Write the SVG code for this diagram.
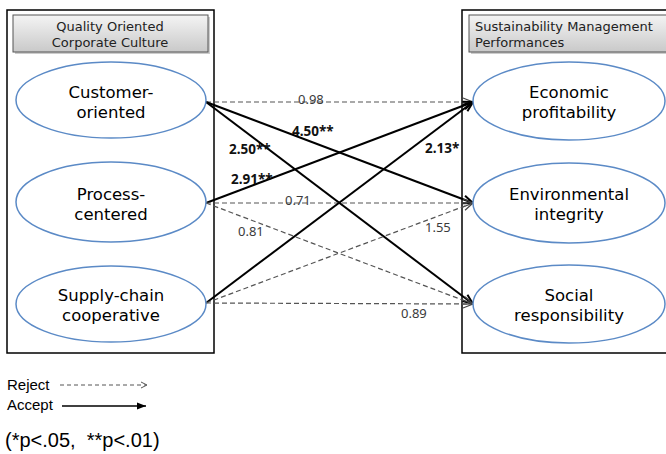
<svg xmlns="http://www.w3.org/2000/svg" width="666" height="454" viewBox="0 0 666 454">
<defs>
<linearGradient id="hdr" x1="0" y1="0" x2="0" y2="1">
<stop offset="0" stop-color="#f4f4f4"/>
<stop offset="1" stop-color="#c9c9c9"/>
</linearGradient>
<marker id="arS" markerWidth="12" markerHeight="10" refX="11" refY="5" orient="auto" markerUnits="userSpaceOnUse">
<path d="M1,1 L11,5 L1,9" fill="none" stroke="#000" stroke-width="2"/>
</marker>
<marker id="arD" markerWidth="12" markerHeight="10" refX="11" refY="5" orient="auto" markerUnits="userSpaceOnUse">
<path d="M1,1 L11,5 L1,9" fill="none" stroke="#444" stroke-width="1.2"/>
</marker>
<marker id="arL" markerWidth="10" markerHeight="8" refX="9" refY="4" orient="auto" markerUnits="userSpaceOnUse">
<path d="M0,0.5 L9,4 L0,7.5 Z" fill="#000"/>
</marker>
</defs>
<style>
.box{fill:#fff;stroke:#000;stroke-width:1.5}
.hdr{fill:url(#hdr);stroke:#555;stroke-width:1}
.ell{fill:#fff;stroke:#5b8ac6;stroke-width:1.5}
.ht{font-family:"DejaVu Sans",sans-serif;font-size:13px;fill:#222}
.nt{font-family:"DejaVu Sans",sans-serif;font-size:16.5px;fill:#000;text-anchor:middle}
.sol{stroke:#000;stroke-width:2;fill:none;marker-end:url(#arS)}
.das{stroke:#555;stroke-width:1.2;stroke-dasharray:5,3;fill:none;marker-end:url(#arD)}
.lb{font-family:"Noto Sans","DejaVu Sans",sans-serif;font-size:13px;fill:#3a3a3a}
.lbb{font-family:"Noto Sans","DejaVu Sans",sans-serif;font-size:13.5px;fill:#111;font-weight:bold}
.lg{font-family:"Liberation Sans",Arial,sans-serif;font-size:15px;fill:#000}
</style>
<g id="left-group">
<rect class="box" x="7" y="10" width="207" height="343"/>
<rect x="15" y="17" width="195" height="37" fill="#999" opacity="0.5"/>
<rect class="hdr" x="13" y="15" width="195" height="37"/>
<text class="ht" x="110" y="31" text-anchor="middle">Quality Oriented</text>
<text class="ht" x="110" y="47" text-anchor="middle">Corporate Culture</text>
</g>
<g id="right-group">
<rect class="box" x="462" y="10" width="210" height="343"/>
<rect x="471" y="17" width="200" height="37" fill="#999" opacity="0.5"/>
<rect class="hdr" x="469" y="15" width="200" height="37"/>
<text class="ht" x="475" y="31">Sustainability Management</text>
<text class="ht" x="475" y="47">Performances</text>
</g>
<g id="connectors">
<line class="das" x1="206" y1="102" x2="473" y2="102"/>
<line class="sol" x1="206" y1="102" x2="473" y2="203"/>
<line class="sol" x1="206" y1="102" x2="473" y2="304"/>
<line class="sol" x1="206" y1="203" x2="473" y2="102"/>
<line class="das" x1="206" y1="203" x2="473" y2="203"/>
<line class="das" x1="206" y1="203" x2="473" y2="304"/>
<line class="sol" x1="206" y1="303" x2="473" y2="102"/>
<line class="das" x1="206" y1="303" x2="473" y2="203"/>
<line class="das" x1="206" y1="303" x2="473" y2="304"/>
</g>
<g id="labels">
<text class="lb" x="298" y="104">0.98</text>
<text class="lbb" x="292" y="136">4.50**</text>
<text class="lbb" x="229" y="154">2.50**</text>
<text class="lbb" x="231" y="184">2.91**</text>
<text class="lbb" x="425" y="153">2.13*</text>
<text class="lb" x="285" y="205">0.71</text>
<text class="lb" x="238" y="236">0.81</text>
<text class="lb" x="425" y="232">1.55</text>
<text class="lb" x="401" y="318">0.89</text>
</g>
<g id="customer-oriented">
<ellipse class="ell" cx="111" cy="100" rx="95" ry="38"/>
<text class="nt" x="111" y="98">Customer-</text>
<text class="nt" x="111" y="118">oriented</text>
</g>
<g id="process-centered">
<ellipse class="ell" cx="111" cy="202" rx="95" ry="40"/>
<text class="nt" x="111" y="200">Process-</text>
<text class="nt" x="111" y="220">centered</text>
</g>
<g id="supply-chain-cooperative">
<ellipse class="ell" cx="111" cy="304" rx="95" ry="38"/>
<text class="nt" x="111" y="301">Supply-chain</text>
<text class="nt" x="111" y="321">cooperative</text>
</g>
<g id="economic-profitability">
<ellipse class="ell" cx="569" cy="101" rx="96" ry="39"/>
<text class="nt" x="569" y="98">Economic</text>
<text class="nt" x="569" y="118">profitability</text>
</g>
<g id="environmental-integrity">
<ellipse class="ell" cx="569" cy="203" rx="96" ry="40"/>
<text class="nt" x="569" y="200">Environmental</text>
<text class="nt" x="569" y="220">integrity</text>
</g>
<g id="social-responsibility">
<ellipse class="ell" cx="569" cy="304" rx="96" ry="39"/>
<text class="nt" x="569" y="301">Social</text>
<text class="nt" x="569" y="321">responsibility</text>
</g>
<g id="legend">
<text class="lg" x="7" y="390">Reject</text>
<line x1="60" y1="385" x2="146" y2="385" stroke="#555" stroke-width="1" stroke-dasharray="4,3"/>
<path d="M141,382 L147,385 L141,388" fill="none" stroke="#555" stroke-width="1"/>
<text class="lg" x="7" y="410">Accept</text>
<line x1="62" y1="406" x2="146" y2="406" stroke="#000" stroke-width="1.5" marker-end="url(#arL)"/>
<text x="5" y="447" font-family="'Liberation Sans',Arial,sans-serif" font-size="20" fill="#000" xml:space="preserve">(*p&lt;.05,  **p&lt;.01)</text>
</g>
</svg>
